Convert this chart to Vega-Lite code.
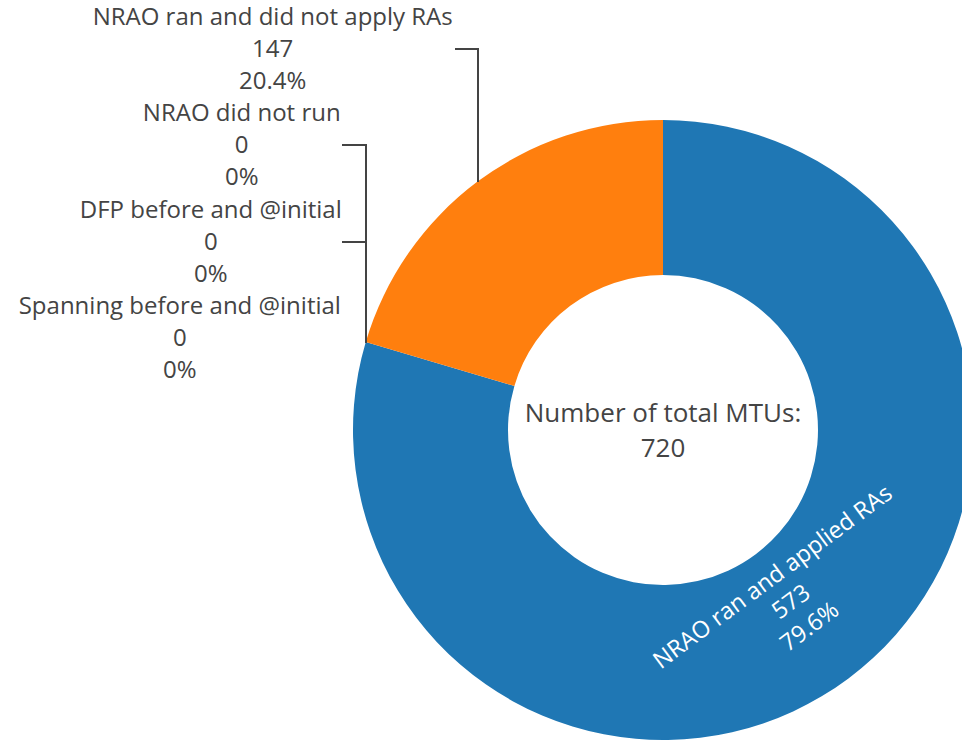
{
  "$schema": "https://vega.github.io/schema/vega-lite/v6.json",
  "width": 598,
  "height": 620,
  "autosize": {"type": "none"},
  "padding": {"left": 364, "top": 120, "right": 0, "bottom": 1},
  "background": "white",
  "config": {"view": {"stroke": null}, "font": "Open Sans"},
  "data": {
    "values": [
      {"category": "NRAO ran and applied RAs", "value": 573, "order": 1, "label": "NRAO ran and applied RAs\n573\n79.6%"},
      {"category": "Spanning before and @initial", "value": 0, "order": 2, "label": "Spanning before and @initial\n0\n0%"},
      {"category": "DFP before and @initial", "value": 0, "order": 3, "label": "DFP before and @initial\n0\n0%"},
      {"category": "NRAO did not run", "value": 0, "order": 4, "label": "NRAO did not run\n0\n0%"},
      {"category": "NRAO ran and did not apply RAs", "value": 147, "order": 5, "label": "NRAO ran and did not apply RAs\n147\n20.4%"}
    ]
  },
  "layer": [
    {
      "mark": {"type": "arc", "innerRadius": 155, "outerRadius": 310},
      "encoding": {
        "theta": {"field": "value", "type": "quantitative", "stack": true},
        "order": {"field": "order", "type": "quantitative"},
        "color": {
          "field": "category",
          "type": "nominal",
          "scale": {
            "domain": ["NRAO ran and applied RAs", "Spanning before and @initial", "DFP before and @initial", "NRAO did not run", "NRAO ran and did not apply RAs"],
            "range": ["#1f77b4", "#2ca02c", "#d62728", "#9467bd", "#ff7f0e"]
          },
          "legend": null
        }
      }
    },
    {
      "mark": {"type": "text", "radius": 184, "angle": 323.4, "fontSize": 23.5, "lineHeight": 31, "lineBreak": "\n", "align": "center", "baseline": "middle", "fill": "white"},
      "encoding": {
        "theta": {"field": "value", "type": "quantitative", "stack": true},
        "order": {"field": "order", "type": "quantitative"},
        "text": {"field": "label", "type": "nominal"},
        "opacity": {"condition": {"test": "datum.category === 'NRAO ran and applied RAs'", "value": 1}, "value": 0}
      }
    },
    {
      "transform": [{"filter": "datum.category !== 'NRAO ran and applied RAs'"}],
      "mark": {"type": "text", "fontSize": 24, "lineHeight": 32, "lineBreak": "\n", "align": "center", "baseline": "middle", "fill": "#444444"},
      "encoding": {
        "x": {
          "field": "category", "type": "nominal",
          "scale": {"type": "point", "domain": ["NRAO ran and did not apply RAs", "NRAO did not run", "DFP before and @initial", "Spanning before and @initial"], "range": [-91.3, -184.2], "padding": 0},
          "axis": null
        },
        "y": {
          "field": "category", "type": "nominal",
          "scale": {"type": "point", "domain": ["NRAO ran and did not apply RAs", "NRAO did not run", "DFP before and @initial", "Spanning before and @initial"], "range": [-102, 187], "padding": 0},
          "axis": null
        },
        "text": {"field": "label", "type": "nominal"}
      }
    },
    {
      "data": {"values": [{"t": "Number of total MTUs:\n720"}]},
      "mark": {"type": "text", "fontSize": 26, "lineHeight": 35, "lineBreak": "\n", "align": "center", "baseline": "middle", "fill": "#444444", "dy": -16},
      "encoding": {"text": {"field": "t", "type": "nominal"}}
    },
    {
      "data": {"values": [{"s": 1}]},
      "mark": {"type": "rule", "stroke": "#444444", "strokeWidth": 2},
      "encoding": {"x": {"value": 91}, "x2": {"value": 114}, "y": {"value": -71}, "y2": {"value": -71}}
    },
    {
      "data": {"values": [{"s": 1}]},
      "mark": {"type": "rule", "stroke": "#444444", "strokeWidth": 2},
      "encoding": {"x": {"value": 114}, "x2": {"value": 114}, "y": {"value": -72}, "y2": {"value": 62}}
    },
    {
      "data": {"values": [{"s": 1}]},
      "mark": {"type": "rule", "stroke": "#444444", "strokeWidth": 2},
      "encoding": {"x": {"value": -22}, "x2": {"value": 2}, "y": {"value": 25}, "y2": {"value": 25}}
    },
    {
      "data": {"values": [{"s": 1}]},
      "mark": {"type": "rule", "stroke": "#444444", "strokeWidth": 2},
      "encoding": {"x": {"value": 2}, "x2": {"value": 2}, "y": {"value": 24}, "y2": {"value": 223}}
    },
    {
      "data": {"values": [{"s": 1}]},
      "mark": {"type": "rule", "stroke": "#444444", "strokeWidth": 2},
      "encoding": {"x": {"value": -22}, "x2": {"value": 2}, "y": {"value": 122}, "y2": {"value": 122}}
    }
  ]
}
